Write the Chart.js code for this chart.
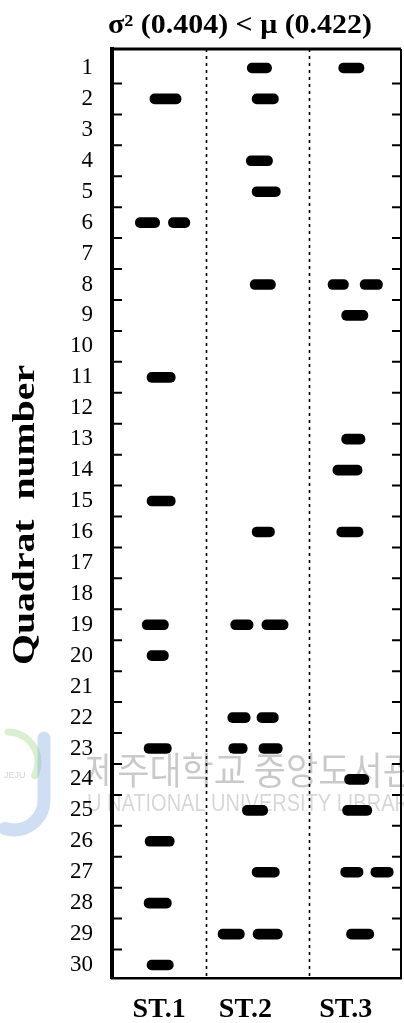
<!DOCTYPE html>
<html>
<head>
<meta charset="utf-8">
<script src="https://cdn.jsdelivr.net/npm/chart.js@4.4.0/dist/chart.umd.min.js"></script>
<style>
    html, body { margin: 0; padding: 0; background: #fff; }
    #wrap { width: 404px; height: 1023px; position: relative; }
</style>
</head>
<body>
<div id="wrap"><canvas id="quadratChart"></canvas></div>
<script>
const quadratLabels = [1, 2, 3, 4, 5, 6, 7, 8, 9, 10, 11, 12, 13, 14, 15,
    16, 17, 18, 19, 20, 21, 22, 23, 24, 25, 26, 27, 28, 29, 30];
const stationNames = ['ST.1', 'ST.2', 'ST.3'];
const stationLabelAt = [0.485, 1.371, 2.402];
const stationDividers = [0.97, 2.02];

// one dash = one individual: [quadrat, from, to]
const st1Dashes = [
    [2, 0.39, 0.71], [6, 0.24, 0.49], [6, 0.58, 0.80], [11, 0.36, 0.65],
    [15, 0.36, 0.65], [19, 0.31, 0.58], [20, 0.36, 0.58], [23, 0.33, 0.61],
    [26, 0.34, 0.64], [28, 0.33, 0.61], [30, 0.36, 0.63]
];
const st2Dashes = [
    [1, 1.39, 1.64], [2, 1.44, 1.71], [4, 1.38, 1.65], [5, 1.44, 1.73],
    [8, 1.42, 1.68], [16, 1.44, 1.67], [19, 1.22, 1.45], [19, 1.54, 1.81],
    [22, 1.19, 1.42], [22, 1.49, 1.71], [23, 1.20, 1.39], [23, 1.51, 1.75],
    [25, 1.34, 1.60], [27, 1.44, 1.72], [29, 1.09, 1.36], [29, 1.45, 1.75]
];
const st3Dashes = [
    [1, 2.33, 2.59], [8, 2.22, 2.43], [8, 2.55, 2.78], [9, 2.36, 2.63],
    [13, 2.36, 2.60], [14, 2.27, 2.57], [16, 2.31, 2.58], [24, 2.39, 2.64],
    [25, 2.37, 2.67], [27, 2.35, 2.58], [27, 2.66, 2.89], [29, 2.41, 2.69]
];

const titleText = 'σ² (0.404) < μ (0.422)';
const yTitleText = 'Quadrat  number';
const watermarkKo = '제주대학교 중앙도서관';
const watermarkEn = 'JEJU NATIONAL UNIVERSITY LIBRARY';

function toBars(dashes) {
    return dashes.map(d => ({ x: [d[1], d[2]], y: d[0] }));
}

const serif = '"Liberation Serif", "Times New Roman", serif';

const framePlugin = {
    id: 'frame',
    beforeDraw(chart) {
        const ctx = chart.ctx;
        ctx.save();
        ctx.fillStyle = '#fff';
        ctx.fillRect(0, 0, chart.width, chart.height);

        // faint library watermark
        ctx.lineCap = 'round';
        ctx.strokeStyle = 'rgba(150, 205, 120, 0.35)';
        ctx.lineWidth = 7;
        ctx.beginPath();
        ctx.arc(8, 762, 30, -Math.PI * 0.5, Math.PI * 0.15);
        ctx.stroke();
        ctx.strokeStyle = 'rgba(120, 160, 220, 0.35)';
        ctx.lineWidth = 13;
        ctx.beginPath();
        ctx.moveTo(44, 738);
        ctx.lineTo(44, 800);
        ctx.arc(14, 800, 30, 0, Math.PI * 0.6);
        ctx.stroke();
        ctx.fillStyle = 'rgba(0, 0, 0, 0.18)';
        ctx.font = '9px "Liberation Sans"';
        ctx.fillText('JEJU', 4, 778);

        ctx.fillStyle = 'rgba(0, 0, 0, 0.21)';
        ctx.textBaseline = 'middle';
        ctx.font = '35px "Noto Sans CJK KR"';
        ctx.save();
        ctx.translate(85, 770);
        ctx.scale(1, 1.08);
        ctx.fillText(watermarkKo, 0, 0);
        ctx.restore();

        ctx.fillStyle = 'rgba(0, 0, 0, 0.16)';
        ctx.save();
        ctx.beginPath();
        ctx.rect(86, 780, 330, 40);
        ctx.clip();
        ctx.font = '20px "Liberation Sans"';
        const lead = ctx.measureText('JEJU ').width;
        ctx.translate(107 - lead, 804);
        ctx.scale(1, 1.2);
        ctx.fillText(watermarkEn, 0, 0);
        ctx.restore();
        ctx.restore();
    },
    beforeDatasetsDraw(chart) {
        const { ctx, chartArea: a, scales: { x, y } } = chart;
        ctx.save();
        ctx.strokeStyle = '#000';

        // station dividers
        ctx.lineWidth = 1.6;
        ctx.setLineDash([3, 4]);
        stationDividers.forEach(v => {
            const px = Math.round(x.getPixelForValue(v)) + 0.5;
            ctx.beginPath();
            ctx.moveTo(px, a.top);
            ctx.lineTo(px, a.bottom);
            ctx.stroke();
        });
        ctx.setLineDash([]);

        // top and right frame
        ctx.lineWidth = 3;
        ctx.beginPath();
        ctx.moveTo(a.left, a.top);
        ctx.lineTo(a.right, a.top);
        ctx.stroke();
        ctx.lineWidth = 2;
        ctx.beginPath();
        ctx.moveTo(a.right, a.top);
        ctx.lineTo(a.right, a.bottom);
        ctx.stroke();

        // short ticks between quadrats
        ctx.lineWidth = 2;
        quadratLabels.slice(0, -1).forEach(q => {
            const py = y.getPixelForValue(q + 0.5);
            ctx.beginPath();
            ctx.moveTo(a.left + 2, py);
            ctx.lineTo(a.left + 10, py);
            ctx.moveTo(a.right - 9, py);
            ctx.lineTo(a.right, py);
            ctx.stroke();
        });
        ctx.restore();
    },
    afterDraw(chart) {
        const ctx = chart.ctx;
        ctx.save();
        ctx.fillStyle = '#000';
        ctx.textAlign = 'center';
        ctx.textBaseline = 'alphabetic';

        ctx.font = 'bold 27px ' + serif;
        let w = ctx.measureText(titleText).width;
        ctx.save();
        ctx.translate(240, 33);
        ctx.scale(264 / w, 1);
        ctx.fillText(titleText, 0, 0);
        ctx.restore();

        ctx.font = 'bold 31px ' + serif;
        w = ctx.measureText(yTitleText).width;
        ctx.save();
        ctx.translate(34, 515);
        ctx.rotate(-Math.PI / 2);
        ctx.scale(300 / w, 1);
        ctx.fillText(yTitleText, 0, 0);
        ctx.restore();
        ctx.restore();
    }
};

const dashStyle = {
    backgroundColor: '#000',
    barThickness: 10,
    borderRadius: 5,
    borderSkipped: false,
    grouped: false
};

new Chart(document.getElementById('quadratChart').getContext('2d'), {
    type: 'bar',
    data: {
        datasets: [
            Object.assign({ label: stationNames[0], data: toBars(st1Dashes) }, dashStyle),
            Object.assign({ label: stationNames[1], data: toBars(st2Dashes) }, dashStyle),
            Object.assign({ label: stationNames[2], data: toBars(st3Dashes) }, dashStyle)
        ]
    },
    options: {
        indexAxis: 'y',
        responsive: true,
        maintainAspectRatio: false,
        animation: false,
        layout: { padding: { top: 49, right: 3, left: 0, bottom: 0 } },
        plugins: {
            legend: { display: false },
            tooltip: { enabled: false },
            title: { display: false }
        },
        scales: {
            y: {
                type: 'linear',
                reverse: true,
                offset: false,
                min: 0.386,
                max: 30.42,
                afterBuildTicks: s => { s.ticks = quadratLabels.map(v => ({ value: v })); },
                afterFit: s => { s.width = 112; },
                grid: { display: false },
                border: { display: true, width: 4, color: '#000' },
                ticks: {
                    autoSkip: false,
                    padding: 11,
                    color: '#000',
                    font: { family: serif, size: 23 }
                }
            },
            x: {
                type: 'linear',
                min: 0,
                max: 2.97,
                afterBuildTicks: s => { s.ticks = stationLabelAt.map(v => ({ value: v })); },
                afterFit: s => { s.height = 45; },
                grid: { display: false },
                border: { display: true, width: 2.5, color: '#000' },
                ticks: {
                    autoSkip: false,
                    maxRotation: 0,
                    padding: 7,
                    color: '#000',
                    font: { family: serif, size: 28, weight: 'bold' },
                    callback: (v, i) => stationNames[i]
                }
            }
        }
    },
    plugins: [framePlugin]
});
</script>
</body>
</html>
